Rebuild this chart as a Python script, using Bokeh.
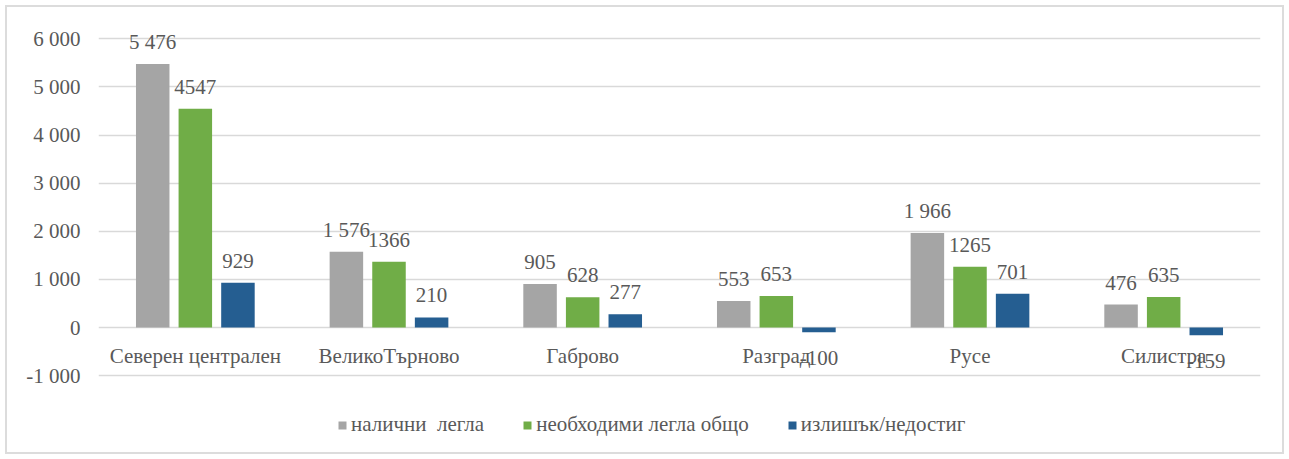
from bokeh.plotting import figure
from bokeh.models import (ColumnDataSource, Range1d, FixedTicker, CustomJSTickFormatter,
                          Legend, LegendItem)
from bokeh.transform import dodge
from bokeh.core.properties import value
from bokeh.embed import file_html
from bokeh.resources import INLINE

categories = ["Северен централен", "ВеликоТърново", "Габрово", "Разград", "Русе", "Силистра"]
available_beds = [5476, 1576, 905, 553, 1966, 476]
needed_beds = [4547, 1366, 628, 653, 1265, 635]
surplus_deficit = [929, 210, 277, -100, 701, -159]
series_names = ["налични  легла", "необходими легла общо", "излишък/недостиг"]
y_ticks = [-1000, 0, 1000, 2000, 3000, 4000, 5000, 6000]

colors = ["#a5a5a5", "#70ad47", "#255e91"]
FONT = "Liberation Serif"
TXT = "#595959"
FS = "21px"


def fmt_space(v):
    s = f"{abs(v):,}".replace(",", " ")
    return ("-" if v < 0 else "") + s


def fmt_plain(v):
    return str(v)


# frame spans the whole chart area; the visible value axis runs -1000..6000
p = figure(x_range=categories, y_range=Range1d(-2557, 6590),
           width=1289, height=459, output_backend="svg", toolbar_location=None,
           min_border_left=98, min_border_right=29, min_border_top=10, min_border_bottom=9)
p.styles = {"outline": "2px solid #dcdcdc", "outline-offset": "-7px"}
p.border_fill_color = None
p.background_fill_color = None
p.outline_line_color = None
p.xaxis.visible = False
p.xgrid.visible = False
p.ygrid.grid_line_color = "#d9d9d9"
p.ygrid.grid_line_width = 1.3

yax = p.yaxis[0]
yax.ticker = FixedTicker(ticks=y_ticks)
yax.formatter = CustomJSTickFormatter(code="""
const a = Math.abs(tick).toFixed(0).replace(/\\B(?=(\\d{3})+(?!\\d))/g, " ");
return (tick < 0 ? "-" : "") + a;
""")
yax.axis_line_color = None
yax.major_tick_line_color = None
yax.minor_tick_line_color = None
yax.major_label_standoff = 12
yax.major_label_text_font = FONT
yax.major_label_text_font_size = FS
yax.major_label_text_color = TXT

series = [available_beds, needed_beds, surplus_deficit]
formatters = [fmt_space, fmt_plain, fmt_plain]
offsets = [-0.22, 0.0, 0.22]
items = []
for vals, name, col, off, f in zip(series, series_names, colors, offsets, formatters):
    src = ColumnDataSource(dict(
        cat=categories, val=vals,
        lab=[f(v) for v in vals],
        yoff=[-22 if v >= 0 else 26 for v in vals],
    ))
    r = p.vbar(x=dodge("cat", off, range=p.x_range), top="val", bottom=0, width=0.173,
               source=src, fill_color=col, line_color=None)
    p.text(x=dodge("cat", off, range=p.x_range), y="val", text="lab", y_offset="yoff",
           source=src, text_align="center", text_baseline="middle",
           text_font=value(FONT), text_font_size=FS, text_color=TXT)
    items.append(LegendItem(label=name, renderers=[r]))

cat_src = ColumnDataSource(dict(cat=categories, y=[0] * len(categories)))
p.text(x="cat", y="y", text="cat", source=cat_src, y_offset=28,
       text_align="center", text_baseline="middle",
       text_font=value(FONT), text_font_size=FS, text_color=TXT)

legend = Legend(items=items, orientation="horizontal", location=(239, 13),
                glyph_width=10, glyph_height=10, label_standoff=4, spacing=38,
                padding=0, margin=0, border_line_color=None, background_fill_alpha=0,
                label_text_font=FONT, label_text_font_size=FS, label_text_color=TXT)
p.add_layout(legend, "center")

open("out.html", "w").write(file_html(p, INLINE))
